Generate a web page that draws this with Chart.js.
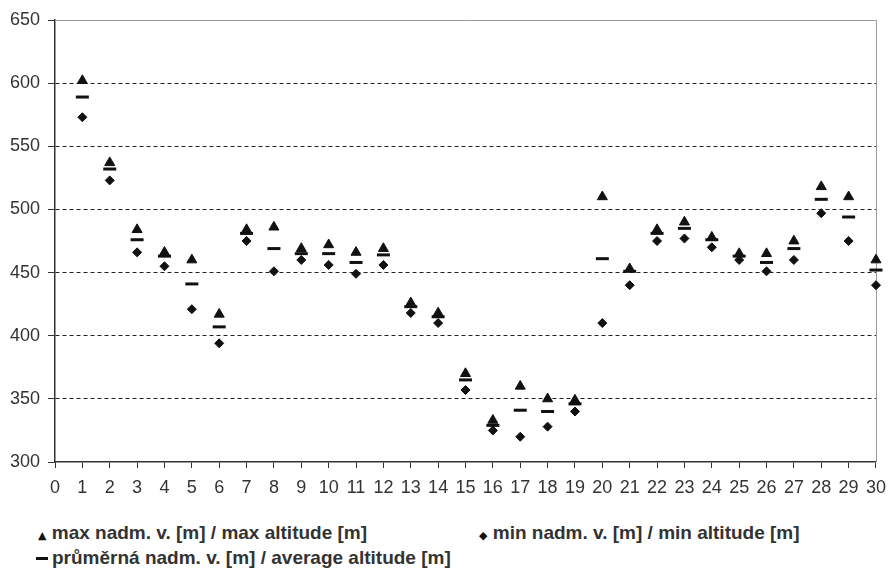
<!DOCTYPE html>
<html>
<head>
<meta charset="utf-8">
<script src="https://cdn.jsdelivr.net/npm/chart.js@4/dist/chart.umd.min.js"></script>
<style>
  body { margin: 0; background: #fff; }
  #wrap { position: relative; width: 895px; height: 575px; }
  #chart { position: absolute; left: 0; top: 0; }
  .leg { position: absolute; font-family: "Liberation Sans", Arial, sans-serif; font-weight: bold;
         font-size: 19px; color: #333; white-space: nowrap; line-height: 20px; }
  .mk { display: inline-block; color: #111; font-family: "DejaVu Sans", sans-serif; }
</style>
</head>
<body>
<div id="wrap">
  <canvas id="chart" width="895" height="505"></canvas>
  <div class="leg" id="leg1" style="left:38px; top:523px;"></div>
  <div class="leg" id="leg2" style="left:479px; top:523px;"></div>
  <div class="leg" id="leg3" style="left:36px; top:548px;"></div>
</div>
<script>
// den / day
const days = [1,2,3,4,5,6,7,8,9,10,11,12,13,14,15,16,17,18,19,20,21,22,23,24,25,26,27,28,29,30];
const maxAlt = [602,537,484,466,460,417,484,486,469,472,466,469,426,418,370,333,360,350,349,510,453,484,490,478,465,465,475,518,510,460];
const avgAlt = [589,532,476,463,441,407,481,469,465,465,458,464,423,415,365,329,341,340,346,461,451,481,485,476,463,458,469,508,494,452];
const minAlt = [573,523,466,455,421,394,475,451,460,456,449,456,418,410,357,325,320,328,340,410,440,475,477,470,460,451,460,497,475,440];

const labelMax = 'max nadm. v. [m] / max altitude [m]';
const labelMin = 'min nadm. v. [m] / min altitude [m]';
const labelAvg = 'průměrná nadm. v. [m] / average altitude [m]';

function pts(arr) {
    return days.map(function(d, i) { return { x: d, y: arr[i] }; });
}

// ramecek nahore a vpravo
const framePlugin = {
    id: 'frame',
    beforeDatasetsDraw: function(chart) {
        const a = chart.chartArea;
        const c = chart.ctx;
        c.save();
        c.strokeStyle = '#9a9a9a';
        c.lineWidth = 1;
        c.beginPath();
        c.moveTo(a.left, a.top + 0.5);
        c.lineTo(a.right + 0.5, a.top + 0.5);
        c.lineTo(a.right + 0.5, a.bottom);
        c.stroke();
        c.restore();
    }
};

const ctx = document.getElementById('chart').getContext('2d');
const chart = new Chart(ctx, {
    type: 'line',
    data: {
        datasets: [
            {
                label: labelMax,
                data: pts(maxAlt),
                showLine: false,
                pointStyle: 'triangle',
                pointRadius: 5.8,
                backgroundColor: '#111',
                borderColor: '#111',
                borderWidth: 1,
                clip: false
            },
            {
                label: labelAvg,
                data: pts(avgAlt),
                showLine: false,
                pointStyle: 'line',
                pointRadius: 6.5,
                pointBorderWidth: 3,
                borderColor: '#111',
                backgroundColor: '#111',
                clip: false
            },
            {
                label: labelMin,
                data: pts(minAlt),
                showLine: false,
                pointStyle: 'rectRot',
                pointRadius: 4.5,
                backgroundColor: '#111',
                borderColor: '#111',
                borderWidth: 1,
                clip: false
            }
        ]
    },
    options: {
        responsive: false,
        animation: false,
        layout: { padding: { top: 20, right: 11, left: 0, bottom: 0 } },
        plugins: {
            legend: { display: false },
            tooltip: { enabled: false }
        },
        scales: {
            x: {
                type: 'linear',
                min: 0,
                max: 30,
                afterFit: function(s) { s.height = 43; },
                ticks: {
                    stepSize: 1,
                    autoSkip: false,
                    maxRotation: 0,
                    padding: 9,
                    color: '#333',
                    font: { family: '"Liberation Sans", Arial, sans-serif', size: 18 }
                },
                grid: {
                    drawOnChartArea: false,
                    drawTicks: true,
                    tickLength: 6,
                    tickColor: '#333'
                },
                border: { color: '#333', width: 1.5 }
            },
            y: {
                min: 300,
                max: 650,
                afterFit: function(s) { s.width = 55; },
                ticks: {
                    stepSize: 50,
                    padding: 8,
                    color: '#333',
                    font: { family: '"Liberation Sans", Arial, sans-serif', size: 18 }
                },
                grid: {
                    color: function(c) { return c.tick && (c.tick.value === 650 || c.tick.value === 300) ? 'rgba(0,0,0,0)' : '#222'; },
                    lineWidth: 1,
                    tickLength: 7,
                    tickColor: '#333',
                    tickBorderDash: []
                },
                border: { color: '#333', width: 1.5, dash: [4, 3] }
            }
        }
    },
    plugins: [framePlugin]
});

// legenda
const ds = chart.data.datasets;
document.getElementById('leg1').innerHTML = '<span class="mk" style="font-size:11px">&#9650;</span> ' + ds[0].label;
document.getElementById('leg2').innerHTML = '<span class="mk" style="font-size:11px">&#9670;</span> ' + ds[2].label;
document.getElementById('leg3').innerHTML = '<span class="mk" style="width:12px;height:3px;background:#111;vertical-align:middle;margin-right:4px"></span>' + ds[1].label;
</script>
</body>
</html>
